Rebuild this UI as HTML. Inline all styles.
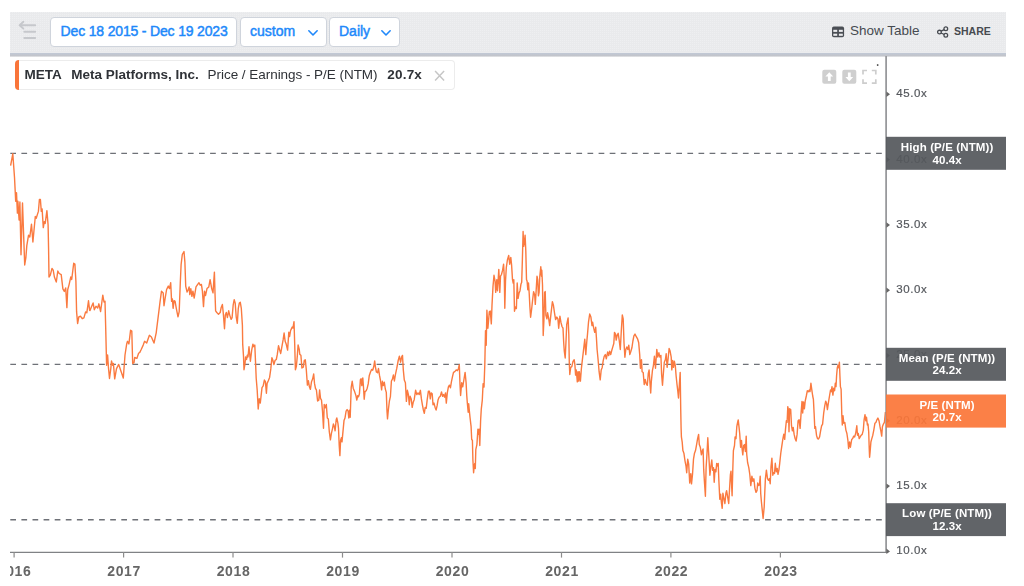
<!DOCTYPE html>
<html>
<head>
<meta charset="utf-8">
<title>META P/E (NTM)</title>
<style>
html,body{margin:0;padding:0;background:#fff;}
body{width:1024px;height:586px;position:relative;overflow:hidden;font-family:"Liberation Sans",sans-serif;}
.abs{position:absolute;}
#toolbar{left:10px;top:12px;width:996px;height:41px;background:#eaebed;}
#tbb{left:10px;top:52px;width:996px;height:5px;background:linear-gradient(to bottom,#ebecee 0%,#ebecee 16%,#c1c8d4 30%,#c2c4c9 84%,#ffffff 98%);}
.btn{position:absolute;top:17px;height:28px;border:1px solid #cfd4dc;border-radius:4px;background:#fff;color:#2088fa;font-size:14px;line-height:28px;white-space:nowrap;}
.btn span{position:absolute;top:-0.6px;-webkit-text-stroke:0.45px #2088fa;}
#legend{left:15px;top:60px;width:439px;height:28px;border:1px solid #ececec;border-left:none;border-radius:4px;background:#fff;}
#legbar{left:15px;top:60px;width:4px;height:30px;background:#f9753a;border-radius:4px 0 0 4px;}
.lt{position:absolute;top:60px;height:30px;line-height:30px;font-size:13.5px;color:#2f3237;white-space:nowrap;}
</style>
</head>
<body>
<div id="root" style="position:absolute;left:0;top:0;width:1024px;height:586px;opacity:0.999;">
<div id="toolbar" class="abs"><svg width="996" height="41" style="display:block"><defs><pattern id="dots" width="2" height="2" patternUnits="userSpaceOnUse"><rect width="2" height="2" fill="#e9eaec"/><rect x="0" y="0" width="1" height="1" fill="#eeeff1"/></pattern></defs><rect width="996" height="41" fill="url(#dots)"/></svg></div><div id="tbb" class="abs"></div>
<!-- collapse icon -->
<svg class="abs" style="left:10px;top:14px" width="40" height="36" viewBox="0 0 40 36">
<g stroke="#c6c8cc" stroke-width="1.9" fill="none" stroke-linecap="round" stroke-linejoin="round">
<path d="M9.6 11.2 H25.2 M13.4 7.8 L9.6 11.2 L13.4 14.6"/><path d="M14.3 17.7 H25.2"/><path d="M14.3 24 H25.2"/>
</g></svg>
<div class="btn" style="left:50px;width:185px;"><span style="left:9.6px;letter-spacing:-0.17px">Dec 18 2015 - Dec 19 2023</span></div>
<div class="btn" style="left:240px;width:85px;"><span style="left:9px">custom</span>
<svg class="abs" style="left:66.1px;top:10.5px" width="12" height="8" viewBox="0 0 12 8"><path d="M1.85 1.8 L6 6 L10.15 1.8" stroke="#2088fa" stroke-width="1.6" fill="none" stroke-linecap="round" stroke-linejoin="round"/></svg></div>
<div class="btn" style="left:329px;width:69px;"><span style="left:9px">Daily</span>
<svg class="abs" style="left:49.7px;top:10.5px" width="12" height="8" viewBox="0 0 12 8"><path d="M1.85 1.8 L6 6 L10.15 1.8" stroke="#2088fa" stroke-width="1.6" fill="none" stroke-linecap="round" stroke-linejoin="round"/></svg></div>
<!-- show table -->
<svg class="abs" style="left:832px;top:26px" width="13" height="12" viewBox="0 0 13 12"><rect x="0" y="0.6" width="12.1" height="10.6" rx="1.8" fill="#4a4e54"/><g fill="#ebecee"><rect x="1.3" y="3.8" width="3.9" height="2.1"/><rect x="6.9" y="3.8" width="3.9" height="2.1"/><rect x="1.3" y="7.7" width="3.9" height="2.1"/><rect x="6.9" y="7.7" width="3.9" height="2.1"/></g></svg>
<div class="abs" style="left:850px;top:22px;font-size:13.5px;line-height:18px;color:#464a50;white-space:nowrap;">Show Table</div>
<svg class="abs" style="left:937px;top:26px" width="12" height="12" viewBox="0 0 12 12"><g fill="none" stroke="#464a50" stroke-width="1.3"><circle cx="2.45" cy="6.1" r="1.85"/><circle cx="8.8" cy="2.8" r="1.85"/><circle cx="8.8" cy="9.3" r="1.85"/><path d="M4.1 5.2 L7.2 3.6 M4.1 7 L7.2 8.5"/></g></svg>
<div class="abs" style="left:954px;top:24px;font-size:10.5px;font-weight:bold;line-height:15px;color:#464a50;white-space:nowrap;">SHARE</div>

<!-- chart svg -->
<svg class="abs" style="left:0;top:0" width="1024" height="586" viewBox="0 0 1024 586">
<g stroke="#6e7177" stroke-width="1.35" stroke-dasharray="5.7 5.4" fill="none">
<path d="M10.3 153.4 H882"/><path d="M10.3 364.4 H882"/><path d="M10.3 519.7 H882"/>
</g>
<polyline id="series" fill="none" stroke="#fa7a40" stroke-width="1.4" stroke-linejoin="round" points="10.6,165.7 12.8,153.8 14.5,177.3 15.7,201.2 16.5,192.7 17.4,213.1 17.9,201.2 19.1,220.0 19.9,202.0 21.0,254.7 22.5,202.9 24.7,265.0 25.9,257.3 26.8,245.6 28.5,235.3 29.8,237.0 31.5,224.2 32.9,242.0 35.3,216.5 36.2,218.3 38.4,211.4 39.4,199.5 40.4,199.5 41.3,211.4 42.1,208.9 43.3,227.6 44.3,221.7 45.2,223.4 46.9,210.6 48.1,225.1 48.6,250.0 49.0,277.0 50.3,275.2 52.0,268.4 53.2,270.1 54.4,277.0 56.3,282.0 57.8,271.0 59.2,273.5 61.2,274.7 62.9,288.9 64.3,291.4 65.7,288.0 66.9,307.6 67.7,289.7 69.1,284.6 70.8,276.9 71.7,279.5 73.7,263.3 74.9,264.1 75.9,281.2 76.6,311.9 77.6,323.5 78.8,317.0 80.5,316.2 82.2,318.7 83.9,317.9 85.6,311.9 86.8,312.8 88.5,300.8 89.6,310.2 90.0,310.6 91.7,306.3 93.1,302.9 94.3,309.7 96.0,306.3 97.7,308.0 98.9,303.8 100.6,311.5 102.8,295.2 104.0,302.0 105.0,301.2 105.7,327.7 106.6,365.2 107.6,355.0 108.4,366.9 109.5,378.5 110.8,368.6 111.5,361.0 112.7,365.2 113.4,363.5 114.7,378.9 116.5,368.6 118.7,364.4 120.4,369.5 121.6,372.9 123.3,378.0 125.0,355.0 126.7,343.9 127.5,341.3 128.9,343.9 130.6,330.2 131.8,331.1 132.7,363.5 134.0,362.6 134.7,357.5 136.9,358.4 138.6,353.3 139.8,352.4 141.2,349.5 143.2,345.1 144.6,341.3 146.7,343.0 148.0,339.3 149.4,335.3 151.4,337.0 154.0,343.0 156.2,332.8 156.7,328.7 158.4,315.1 160.1,301.4 161.5,291.2 163.2,292.9 164.0,305.7 165.2,298.0 166.6,289.5 168.3,286.1 169.5,288.6 170.7,282.7 171.6,301.4 172.4,298.9 173.1,308.3 174.1,300.6 175.1,301.4 176.3,308.3 178.0,316.8 179.2,311.7 180.3,282.7 181.1,264.7 182.3,254.5 184.0,251.6 184.9,262.2 185.7,286.1 187.1,292.0 188.3,289.5 189.1,286.9 189.8,294.6 190.8,288.6 191.9,296.3 192.9,291.2 194.2,298.0 196.0,286.9 197.7,284.4 199.0,282.7 200.2,285.2 201.4,284.4 202.4,291.2 203.5,306.6 204.5,291.2 205.5,295.5 207.0,288.6 208.8,286.9 210.1,279.6 211.7,288.6 213.0,292.9 214.4,272.1 215.1,296.3 215.6,310.8 216.8,312.5 218.5,314.2 220.2,312.5 221.2,307.4 222.4,304.5 223.3,313.4 224.5,328.7 225.3,315.1 226.3,312.5 227.4,317.6 228.7,310.8 229.7,315.1 231.1,319.4 232.1,317.6 233.2,304.8 234.2,299.7 235.2,303.1 236.2,316.8 237.3,323.3 238.3,308.3 239.3,303.1 240.3,302.3 241.3,308.3 242.4,325.3 242.7,344.1 243.5,356.1 244.0,369.7 244.9,364.6 245.6,356.9 246.6,359.5 247.3,355.2 248.0,356.9 249.0,346.7 250.4,361.2 251.7,350.1 252.9,344.1 253.8,346.7 254.8,345.0 255.5,361.2 256.2,378.3 257.2,390.2 258.2,409.0 259.2,398.7 260.3,403.0 262.0,387.6 263.2,385.9 264.4,380.0 265.4,381.7 266.4,393.3 267.1,383.4 268.3,380.8 269.6,377.4 270.8,368.9 271.9,357.8 272.9,360.3 273.9,364.6 275.1,360.3 276.3,359.5 277.3,354.4 278.5,345.8 279.7,350.1 280.7,353.5 281.9,346.7 283.1,339.9 284.1,333.0 285.2,341.6 286.2,344.1 287.6,350.1 288.8,332.2 289.6,336.5 290.6,330.5 292.2,327.1 293.0,327.9 294.0,321.6 294.7,344.1 295.4,369.7 296.4,366.3 297.3,356.1 298.1,345.0 299.2,349.2 299.8,354.4 300.9,355.2 301.9,368.0 303.3,367.2 304.3,360.3 305.3,359.8 306.3,369.7 307.4,385.1 308.4,380.8 309.4,386.8 310.4,389.4 311.5,381.7 312.6,379.1 313.7,374.0 314.5,383.4 315.5,388.5 316.4,389.9 317.6,401.0 318.8,400.1 319.6,389.9 320.5,398.4 321.5,400.1 322.5,411.2 323.5,428.3 324.2,404.4 325.2,407.8 326.3,404.4 327.3,418.0 328.3,418.9 329.3,431.7 330.4,439.9 331.4,433.4 332.4,429.1 333.4,424.0 334.3,426.6 335.1,430.8 336.2,419.7 336.8,418.0 337.9,423.1 338.5,428.3 339.2,445.3 339.9,455.6 340.6,440.2 341.5,437.6 342.0,441.9 342.8,433.4 344.0,420.6 345.0,418.0 346.1,411.2 347.1,409.5 348.1,411.2 348.8,418.0 349.5,410.3 350.2,417.2 351.2,387.3 352.2,381.3 353.2,388.2 354.6,391.6 356.0,395.8 356.8,400.1 357.7,395.8 358.5,396.7 359.4,394.1 360.4,379.6 361.1,378.8 361.8,385.6 362.8,377.9 363.5,387.3 364.2,399.2 365.0,391.6 366.2,390.7 367.2,388.2 368.2,383.9 369.3,375.4 370.5,372.0 371.6,369.4 372.7,370.2 373.7,366.8 374.7,360.9 375.4,366.8 376.4,372.0 377.5,372.8 378.5,368.5 379.5,375.4 380.5,380.5 381.6,389.9 382.4,381.3 383.3,385.6 384.3,382.2 385.3,389.0 386.3,392.4 387.0,411.2 387.5,418.9 388.4,409.5 389.4,401.0 390.4,396.7 391.4,381.0 392.4,379.2 393.4,375.0 394.4,381.0 395.5,374.1 396.8,368.2 398.2,360.5 399.4,356.2 400.6,362.2 401.6,357.1 402.5,355.4 403.3,369.9 404.3,380.1 405.4,382.7 406.4,401.4 407.4,390.3 408.4,394.6 409.3,404.8 410.1,396.3 411.2,398.9 412.2,407.4 413.2,402.3 414.2,399.7 415.6,390.3 416.8,394.6 418.0,392.9 419.2,394.6 420.4,390.3 421.4,398.9 422.4,404.8 423.4,410.0 424.3,413.4 425.2,407.4 426.2,408.3 427.2,399.7 428.4,391.2 429.4,391.2 430.3,398.9 431.1,392.9 432.2,393.8 433.0,404.8 434.0,403.1 435.1,407.4 436.1,410.0 437.1,405.7 438.1,399.7 439.1,397.2 440.3,396.3 441.5,392.0 442.6,396.3 443.6,394.6 444.6,397.2 445.5,392.9 446.3,403.1 447.3,392.9 448.4,386.9 449.4,385.2 450.4,387.8 451.4,381.8 452.5,376.7 453.5,372.4 454.8,371.6 456.2,369.9 457.4,370.7 458.3,369.0 459.3,364.7 460.0,384.4 460.6,395.5 461.7,382.7 462.7,386.9 463.7,381.0 465.1,372.4 466.1,382.7 466.8,396.0 467.3,402.8 468.2,412.2 468.7,403.7 469.4,411.3 470.0,417.3 471.1,426.7 471.7,439.5 472.4,440.3 472.9,460.0 473.6,472.8 474.3,465.1 474.8,463.4 475.3,468.5 475.8,449.7 476.9,444.6 477.9,429.2 478.6,434.4 479.1,429.2 479.8,445.5 480.6,420.7 481.3,408.8 482.3,400.2 483.1,383.6 484.0,387.0 484.8,364.8 485.5,330.7 486.2,345.2 486.9,310.2 487.9,328.2 489.3,311.9 490.3,311.1 491.3,323.9 492.0,305.2 493.0,286.4 494.0,275.3 495.1,281.3 495.7,292.4 496.8,279.6 497.5,290.7 498.1,281.3 498.8,269.4 499.8,292.4 500.5,276.2 501.5,274.5 502.6,270.2 503.6,264.2 504.3,277.9 504.8,308.3 505.5,281.3 506.3,267.7 507.4,260.0 508.7,255.4 509.7,264.2 510.8,257.4 511.6,265.1 512.5,279.6 513.2,283.0 513.8,279.6 514.5,311.2 515.5,306.9 516.4,308.6 517.2,283.0 518.1,298.4 519.0,293.3 520.0,290.7 521.0,283.9 521.7,282.2 522.4,259.1 523.1,231.5 523.7,246.3 524.4,242.1 525.1,235.2 525.8,250.6 526.5,279.6 527.1,281.3 527.8,289.8 528.5,283.0 529.2,293.3 529.9,306.9 530.6,317.2 531.6,309.5 532.6,300.1 533.6,291.6 534.7,295.0 535.3,304.4 536.2,289.8 537.0,276.2 537.7,279.6 538.4,295.8 539.1,292.4 539.8,276.2 540.8,266.8 541.5,276.2 541.8,270.2 542.5,284.7 543.2,335.5 543.9,320.5 544.6,292.4 545.2,291.6 545.9,315.4 546.9,318.8 547.6,312.8 548.6,317.9 549.7,325.6 551.0,313.7 552.4,301.7 553.4,305.1 554.5,312.8 555.6,319.6 556.8,317.1 557.9,318.8 558.7,328.2 559.9,316.2 560.9,322.2 562.0,326.5 563.0,328.2 563.7,342.7 564.3,351.2 565.2,358.0 566.1,339.2 566.7,324.7 568.1,317.9 568.8,334.1 569.3,363.1 569.8,374.5 570.7,367.4 571.8,366.6 573.0,361.4 574.2,359.7 574.9,364.8 575.6,375.1 576.3,370.0 577.3,381.9 578.0,371.7 578.7,381.1 579.3,371.7 580.4,381.1 581.4,368.3 582.4,359.7 583.4,351.2 584.8,339.2 585.8,354.6 586.7,342.7 587.5,334.1 588.5,322.2 589.7,314.0 590.9,317.1 592.0,325.6 592.6,322.2 593.7,328.2 594.7,332.4 595.7,327.3 596.4,337.5 597.1,349.5 598.1,359.7 599.1,371.7 600.2,379.9 601.2,370.0 602.2,367.4 603.2,360.6 604.2,356.3 605.3,354.6 606.3,358.9 607.7,352.0 608.7,355.5 609.7,351.2 610.7,354.6 611.8,350.3 612.8,346.9 613.8,343.5 614.5,332.4 615.5,334.1 616.2,340.1 617.2,335.0 618.2,333.3 619.3,341.0 620.3,349.5 621.3,330.7 622.3,315.0 623.2,318.8 624.0,342.7 624.9,357.2 625.8,349.5 626.8,346.9 627.8,349.5 628.8,345.2 629.8,354.6 630.9,351.2 631.9,347.8 632.9,341.0 633.9,335.8 635.0,334.1 636.3,336.7 637.7,339.2 638.7,342.7 639.7,354.6 640.4,368.3 641.5,359.7 642.1,371.7 643.2,372.5 644.2,384.5 645.2,379.4 646.2,383.6 647.3,385.3 648.3,373.4 649.1,370.0 649.8,380.2 650.7,393.0 651.3,381.9 652.4,370.7 653.4,365.6 654.4,356.2 655.5,368.2 656.8,349.4 657.8,357.1 658.9,352.8 659.9,357.1 660.9,355.4 661.6,374.1 662.5,385.2 663.3,374.1 664.3,362.2 665.4,359.6 666.2,353.7 667.1,367.3 668.1,358.8 669.1,348.5 670.1,351.1 671.2,357.1 671.8,369.9 672.7,360.5 673.5,367.3 674.4,361.3 675.3,365.6 676.1,375.8 677.0,384.4 677.8,391.2 678.5,398.0 679.4,384.4 680.2,372.4 680.7,408.3 681.1,428.0 681.4,436.9 682.2,442.1 682.9,450.6 683.9,453.2 685.0,460.8 686.0,466.0 686.7,472.8 687.7,459.1 688.7,464.2 689.7,483.0 690.8,473.6 691.5,483.9 692.5,474.5 693.5,459.1 694.5,453.2 695.5,450.6 696.6,444.6 697.6,438.7 698.6,434.4 699.3,444.6 700.3,447.2 701.4,454.9 702.4,450.6 703.1,448.9 703.7,469.4 704.4,481.3 705.4,496.3 706.1,467.7 707.0,453.2 707.8,437.8 708.5,450.6 709.2,462.5 709.9,475.3 710.9,466.0 711.8,460.0 712.6,470.2 713.5,467.7 714.2,482.2 715.0,469.4 715.9,471.9 716.7,463.4 717.6,466.0 718.2,463.4 718.9,481.3 719.8,499.2 720.6,494.1 721.5,503.5 722.2,508.3 722.9,493.3 723.9,498.4 724.9,503.5 725.9,493.3 726.6,490.7 727.6,496.7 728.7,503.5 729.5,489.8 730.4,474.5 731.0,471.1 732.1,495.8 732.8,469.4 733.4,450.6 734.5,445.5 735.1,436.9 736.0,438.7 736.8,426.7 737.5,423.0 738.2,419.9 738.9,425.9 739.7,433.5 740.6,447.2 741.5,440.4 742.1,448.9 742.8,454.9 743.7,445.5 744.5,444.6 745.4,451.5 746.2,436.1 746.7,454.0 747.6,462.5 748.8,467.7 749.8,474.5 750.8,485.6 751.9,476.2 752.9,481.3 753.9,478.8 754.9,488.1 756.0,492.4 757.0,490.7 757.7,483.0 758.7,485.6 759.5,484.7 760.2,476.2 760.7,493.3 761.4,501.8 762.1,508.6 763.1,518.5 764.2,506.9 764.8,492.0 765.4,478.6 766.4,470.1 767.5,478.6 768.5,480.3 769.5,478.6 770.2,483.7 771.0,466.7 771.9,458.1 772.8,475.2 773.6,472.6 774.5,473.5 775.3,463.3 776.3,471.8 777.2,468.4 778.0,474.4 778.9,470.1 779.7,463.3 780.8,453.0 781.8,446.2 782.8,439.4 783.8,434.2 784.7,439.4 785.5,429.1 786.4,420.6 787.1,422.3 787.8,406.6 788.5,410.4 789.0,431.7 789.6,408.7 790.7,409.5 791.5,425.7 792.4,430.8 793.2,427.4 794.1,434.2 795.1,438.5 796.1,441.1 797.1,434.4 798.1,420.7 799.1,419.8 800.1,428.4 801.1,413.0 802.0,401.4 802.7,413.0 803.5,401.9 804.4,408.8 805.2,401.1 806.3,396.0 807.3,390.8 808.3,391.7 809.3,390.0 810.0,391.7 810.9,383.2 811.7,389.1 812.7,396.0 813.4,399.4 814.1,413.0 814.8,428.4 815.5,426.7 816.5,435.2 817.5,438.6 818.5,439.0 819.6,436.9 820.6,430.9 821.6,425.8 822.6,424.1 823.7,413.0 824.7,406.2 825.7,401.1 826.6,403.6 827.4,409.6 828.4,402.8 829.5,396.0 830.5,390.0 831.3,391.7 832.0,386.6 832.9,395.1 833.7,388.3 834.6,390.8 835.3,383.2 836.0,386.6 836.6,375.5 837.3,367.8 838.0,365.2 838.7,367.8 839.4,362.2 839.9,375.5 840.4,386.6 841.1,389.1 841.8,414.7 842.3,425.0 843.0,415.6 843.8,423.3 844.8,422.4 845.9,430.1 846.9,433.5 847.9,440.3 848.6,448.5 849.6,442.0 850.4,447.2 851.7,439.5 852.7,438.6 853.7,436.1 854.7,436.9 855.8,432.6 856.8,425.8 857.5,435.2 858.3,433.5 859.2,438.6 860.2,436.9 861.2,435.2 862.2,434.4 863.3,430.1 864.1,419.8 865.0,414.7 865.8,420.7 866.5,417.3 867.4,425.0 868.0,424.1 868.7,431.8 869.2,448.0 869.6,457.3 870.1,452.0 870.9,442.0 871.8,438.6 872.8,435.2 873.8,430.1 874.9,423.3 875.9,422.4 876.9,419.8 877.9,418.1 879.0,420.7 880.0,426.7 881.0,431.8 881.7,436.1 882.4,426.7 883.4,424.1 884.4,422.4 885.4,412.0"/>
<path d="M886.1 56 V553" stroke="#939497" stroke-width="1.7" fill="none"/>
<path d="M10 552.4 H887" stroke="#808285" stroke-width="1.25" fill="none"/>
<g stroke="#8c8c8c" stroke-width="1.2"><path d="M14.1 552 V557.6"/><path d="M123.6 552 V557.6"/><path d="M233.0 552 V557.6"/><path d="M342.5 552 V557.6"/><path d="M452.0 552 V557.6"/><path d="M561.5 552 V557.6"/><path d="M670.9 552 V557.6"/><path d="M780.4 552 V557.6"/></g>
<g fill="#666"><path d="M886.4 91.6 L890.0 94.3 L886.4 97.1 Z"/><path d="M886.4 156.9 L890.0 159.6 L886.4 162.4 Z"/><path d="M886.4 222.2 L890.0 224.9 L886.4 227.7 Z"/><path d="M886.4 287.5 L890.0 290.2 L886.4 293.0 Z"/><path d="M886.4 352.8 L890.0 355.5 L886.4 358.3 Z"/><path d="M886.4 418.1 L890.0 420.8 L886.4 423.6 Z"/><path d="M886.4 483.4 L890.0 486.1 L886.4 488.9 Z"/><path d="M886.4 548.6 L890.0 551.4 L886.4 554.1 Z"/></g>
<rect x="876.9" y="64.3" width="1.5" height="1.5" fill="#333"/>
</svg>

<!-- y labels -->
<svg class="abs" style="left:0;top:0" width="1024" height="586" viewBox="0 0 1024 586" font-family="Liberation Sans, sans-serif" font-size="11.5" fill="#55585d" stroke="#55585d" stroke-width="0.2" letter-spacing="0.55"><text x="896.3" y="97.30">45.0x</text><text x="896.3" y="162.59">40.0x</text><text x="896.3" y="227.89">35.0x</text><text x="896.3" y="293.18">30.0x</text><text x="896.3" y="358.47">25.0x</text><text x="896.3" y="423.76">20.0x</text><text x="896.3" y="489.06">15.0x</text><text x="896.3" y="554.35">10.0x</text></svg>
<!-- x labels -->
<svg class="abs" style="left:10px;top:556px" width="900" height="30" viewBox="10 556 900 30" font-family="Liberation Sans, sans-serif" font-weight="bold" font-size="14" text-anchor="middle" fill="#666" letter-spacing="0.6"><text x="14.6" y="576.2">2016</text><text x="124.1" y="576.2">2017</text><text x="233.5" y="576.2">2018</text><text x="343.0" y="576.2">2019</text><text x="452.5" y="576.2">2020</text><text x="562.0" y="576.2">2021</text><text x="671.4" y="576.2">2022</text><text x="780.9" y="576.2">2023</text></svg>

<!-- legend -->
<div id="legend" class="abs"></div><div id="legbar" class="abs"></div>
<div class="lt" style="left:24.6px;font-weight:bold;">META</div>
<div class="lt" style="left:71.3px;font-weight:bold;">Meta Platforms, Inc.</div>
<div class="lt" style="left:207.6px;letter-spacing:-0.04px;">Price / Earnings - P/E (NTM)</div>
<div class="lt" style="left:387.3px;font-weight:bold;letter-spacing:0.2px;">20.7x</div>
<svg class="abs" style="left:434px;top:69.6px" width="12" height="12" viewBox="0 0 12 12"><path d="M1.1 1.1 L10.1 10.4 M10.1 1.1 L1.1 10.4" stroke="#c6c6c6" stroke-width="1.5" fill="none"/></svg>

<!-- chart control icons -->
<svg class="abs" style="left:822px;top:69px" width="56" height="16" viewBox="0 0 56 16">
<rect x="0.3" y="0.8" width="14" height="14" rx="2" fill="#cfcfcf"/>
<path d="M7.3 3.3 L11.2 7.6 H8.7 V12 H5.9 V7.6 H3.4 Z" fill="#fff"/>
<rect x="20.3" y="0.8" width="14" height="14" rx="2" fill="#cfcfcf"/>
<path d="M27.3 12.3 L31.2 8 H28.7 V3.6 H25.9 V8 H23.4 Z" fill="#fff"/>
<g stroke="#cdcdcd" stroke-width="1.7" fill="none"><path d="M41 5.6 V1.5 H45"/><path d="M49.8 1.5 H53.8 V5.6"/><path d="M53.8 10.2 V14.2 H49.8"/><path d="M45 14.2 H41 V10.2"/></g>
</svg>

<!-- flags -->
<svg class="abs" style="left:0;top:0" width="1024" height="586" viewBox="0 0 1024 586" font-family="Liberation Sans, sans-serif" font-weight="bold" font-size="11.5" text-anchor="middle" fill="#fff" letter-spacing="0.12">
<rect x="886" y="136.8" width="120" height="33" fill="rgb(85,88,93)" fill-opacity="0.93"/>
<text x="947.1" y="151.2">High (P/E (NTM))</text><text x="947.1" y="163.9">40.4x</text>
<rect x="886" y="347.8" width="120" height="33" fill="rgb(85,88,93)" fill-opacity="0.93"/>
<text x="947.1" y="361.6">Mean (P/E (NTM))</text><text x="947.1" y="374.2">24.2x</text>
<rect x="886" y="394.5" width="120" height="33.1" fill="rgb(251,118,57)" fill-opacity="0.93"/>
<text x="947.1" y="408.5">P/E (NTM)</text><text x="947.1" y="421.1">20.7x</text>
<rect x="886" y="503.2" width="120" height="32.9" fill="rgb(85,88,93)" fill-opacity="0.93"/>
<text x="947.1" y="517.1">Low (P/E (NTM))</text><text x="947.1" y="529.8">12.3x</text>
</svg>
</div>
</body>
</html>
